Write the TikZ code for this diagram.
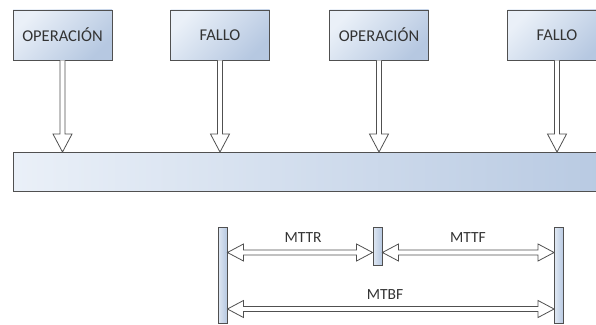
\documentclass[tikz,border=0pt]{standalone}
\usepackage{fontspec}
\setmainfont{Carlito}
\usetikzlibrary{calc}

\definecolor{edge}{HTML}{505050}
\definecolor{ink}{HTML}{333333}
\definecolor{paleblue}{HTML}{EAF0F8}
\definecolor{deepblue}{HTML}{B6C8E1}

\tikzset{
  statebox/.style={draw=edge, line width=0.9pt, top color=paleblue, bottom color=deepblue,
    shading angle=45, minimum width=99pt, minimum height=50pt, inner sep=0pt,
    text=ink, font=\fontsize{16.5}{18}\selectfont},
  timeline/.style={draw=edge, line width=0.9pt, left color=paleblue, right color=deepblue,
    minimum height=39pt, inner sep=0pt},
  marker/.style={draw=edge, line width=0.9pt, left color=paleblue!80!deepblue, right color=deepblue,
    minimum width=9pt, inner sep=0pt},
  hollow/.style={draw=edge, fill=white, line width=0.8pt, line join=miter},
  span/.style={text=ink, font=\fontsize{15.5}{17}\selectfont}
}

% vertical hollow arrow from the bottom of a box down to a target node
\newcommand\dropArrow[2]{%
  \filldraw[hollow] ($(#1.south)+(-2.5pt,0)$) -- ($(#1.south|-#2.north)+(-2.5pt,18pt)$)
    -- ++(-7pt,0) -- (#1.south|-#2.north) -- ++(9.5pt,18pt) -- ++(-7pt,0)
    -- ($(#1.south)+(2.5pt,0)$);
}
% horizontal hollow double-headed arrow between two points
\newcommand\spanArrow[2]{%
  \filldraw[hollow] (#1) -- ++(16pt,8.5pt) -- ++(0,-6pt) -- ($(#2)+(-16pt,2.5pt)$)
    -- ++(0,6pt) -- (#2) -- ++(-16pt,-8.5pt) -- ++(0,6pt) -- ($(#1)+(16pt,-2.5pt)$)
    -- ++(0,-6pt) -- cycle;
}

\begin{document}
\begin{tikzpicture}
\useasboundingbox (0,0) rectangle (596pt,324pt);
\clip (0,0) rectangle (596pt,324pt);

% event boxes
\node[statebox] (op1) at (62.5pt,289pt) {OPERACIÓN};
\node[statebox] (f1)  at (220pt,289pt) {FALLO};
\node[statebox] (op2) at (379pt,289pt) {OPERACIÓN};
\node[statebox] (f2)  at (557pt,289pt) {FALLO};

% time line
\node[timeline, minimum width=620pt, anchor=west] (line) at (13pt,152pt) {};

\dropArrow{op1}{line}
\dropArrow{f1}{line}
\dropArrow{op2}{line}
\dropArrow{f2}{line}

% interval markers
\node[marker, minimum height=96pt, anchor=north] (m1) at (222.5pt,97pt) {};
\node[marker, minimum height=38pt, anchor=north] (m2) at (377.5pt,97pt) {};
\node[marker, minimum height=96pt, anchor=north] (m3) at (559pt,97pt) {};

\coordinate (r1) at (m1.east |- 0,71.5pt);
\coordinate (r2) at (m2.west |- 0,71.5pt);
\coordinate (t1) at (m2.east |- 0,71.5pt);
\coordinate (t2) at (m3.west |- 0,71.5pt);
\coordinate (b1) at (m1.east |- 0,15pt);
\coordinate (b2) at (m3.west |- 0,15pt);

\spanArrow{r1}{r2}
\spanArrow{t1}{t2}
\spanArrow{b1}{b2}

\node[span] (mttr) at (303pt,86pt) {MTTR};
\node[span] (mttf) at (468pt,86pt) {MTTF};
\node[span] (mtbf) at (385pt,29pt) {MTBF};
\end{tikzpicture}
\end{document}
